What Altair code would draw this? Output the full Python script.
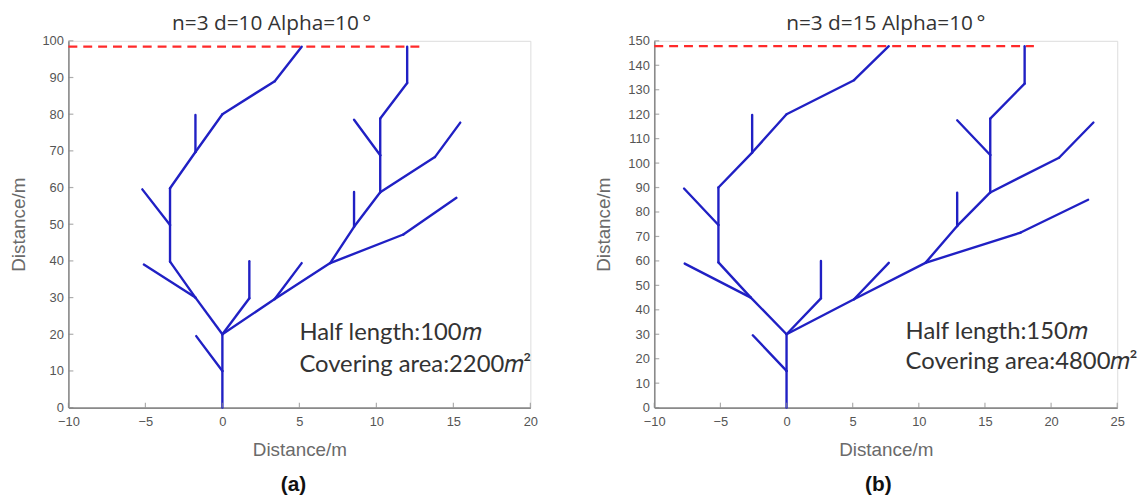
import altair as alt
import pandas as pd

BLUE = "#2020c4"
RED = "#ff2a2a"
AXIS_GREY = "#8a8a8a"
LABEL_GREY = "#555555"

# ---- panel (a): n=3, d=10, alpha=10 deg ----
a_x1 = [0, 0, 0, 0, -1.75, -1.75, -3.4, -3.4, -3.4, -3.4, -1.75, -1.75, 0, 3.4,
        0, 1.75, 0, 3.4, 3.4, 7.0, 11.75, 7.0, 8.55, 8.55, 10.25, 13.8, 10.25, 10.25, 10.25, 10.25, 12.0]
a_y1 = [0, 10, 10, 20, 30, 30, 39.8, 49.8, 49.8, 59.8, 69.7, 69.7, 80, 89,
        20, 29.8, 20, 29.6, 29.6, 39.4, 47.2, 39.4, 49.3, 49.3, 58.7, 68.3, 58.7, 68.8, 68.8, 78.8, 88.5]
a_x2 = [0, 0, -1.7, -1.75, -5.1, -3.4, -3.4, -5.2, -3.4, -1.75, -1.75, 0, 3.4, 5.15,
        1.75, 1.75, 3.4, 5.15, 7.0, 11.75, 15.2, 8.55, 8.55, 10.25, 13.8, 15.45, 10.25, 8.55, 10.25, 12.0, 12.0]
a_y2 = [10, 20, 19.5, 30, 39, 39.8, 49.8, 59.5, 59.8, 69.7, 79.8, 80, 89, 98.4,
        29.8, 39.9, 29.6, 39.4, 39.4, 47.2, 57.2, 49.3, 58.8, 58.7, 68.3, 77.7, 68.8, 78.5, 78.8, 88.5, 98.4]
a_target = [98.4]
a_target_x = [-10, 12.9]
a_xticks = [-10, -5, 0, 5, 10, 15, 20]
a_yticks = [0, 10, 20, 30, 40, 50, 60, 70, 80, 90, 100]

# ---- panel (b): n=3, d=15, alpha=10 deg ----
b_x1 = [0, 0, 0, 0, -2.7, -2.7, -5.15, -5.15, -5.15, -5.15, -2.6, -2.6, 0, 5.1,
        0, 2.6, 0, 5.1, 5.1, 10.5, 17.7, 10.5, 12.9, 12.9, 15.4, 20.6, 15.4, 15.4, 15.4, 15.4, 18.0]
b_y1 = [0, 15, 15, 30, 45, 45, 59.4, 74.7, 74.7, 90, 104.3, 104.3, 120, 133.9,
        30, 44.7, 30, 44.3, 44.3, 59.2, 71.6, 59.2, 74.3, 74.3, 88, 102.2, 88, 103.3, 103.3, 118.2, 132.5]
b_x2 = [0, 0, -2.55, -2.7, -7.7, -5.15, -5.15, -7.75, -5.15, -2.6, -2.6, 0, 5.1, 7.73,
        2.6, 2.6, 5.1, 7.73, 10.5, 17.7, 22.8, 12.9, 12.9, 15.4, 20.6, 23.2, 15.4, 12.9, 15.4, 18.0, 18.0]
b_y2 = [15, 30, 29.6, 45, 58.9, 59.4, 74.7, 89.6, 90, 104.3, 119.7, 120, 133.9, 147.8,
        44.7, 60, 44.3, 59.2, 59.2, 71.6, 85, 74.3, 87.9, 88, 102.2, 116.6, 103.3, 117.5, 118.2, 132.5, 147.8]
b_target = [147.8]
b_target_x = [-10, 18.7]
b_xticks = [-10, -5, 0, 5, 10, 15, 20, 25]
b_yticks = list(range(0, 151, 10))

notes_a = ["Half length:100\U0001D45A", "Covering area:2200\U0001D45A\u00b2"]
notes_b = ["Half length:150\U0001D45A", "Covering area:4800\U0001D45A\u00b2"]


def panel(x1, y1, x2, y2, target, target_x, xmax, ymax, xticks, yticks,
          title, title_dx, notes, note_x, note_y, tag, tag_x, w, h):
    xs = alt.Scale(domain=[-10, xmax], nice=False, zero=False)
    ys = alt.Scale(domain=[0, ymax], nice=False, zero=False)
    xaxis = alt.Axis(values=xticks, tickSize=0, grid=False, domainColor=AXIS_GREY,
                     domainWidth=1.6, labelColor=LABEL_GREY, labelFont="Liberation Sans",
                     labelFontSize=13, labelPadding=8, labelFlush=False, labelOverlap=False,
                     title="Distance/m", titleFont="Liberation Sans", titleFontSize=19,
                     titleFontWeight="normal", titleColor="#6a6a6a", titlePadding=12)
    yaxis = alt.Axis(values=yticks, tickSize=0, grid=False, domainColor=AXIS_GREY,
                     domainWidth=1.6, labelColor=LABEL_GREY, labelFont="Liberation Sans",
                     labelFontSize=13, labelPadding=5, labelFlush=False, labelOverlap=False,
                     title="Distance/m", titleFont="Liberation Sans", titleFontSize=19,
                     titleFontWeight="normal", titleColor="#6a6a6a", titlePadding=14)

    # every layer carries the same axis definition so the merged axes stay intact
    def X(field):
        return alt.X(field, scale=xs, axis=xaxis)

    def Y(field):
        return alt.Y(field, scale=ys, axis=yaxis)

    seg = pd.DataFrame({"x1": x1, "y1": y1, "x2": x2, "y2": y2})
    branches = alt.Chart(seg).mark_rule(color=BLUE, strokeWidth=2.4, strokeCap="round").encode(
        x=X("x1:Q"), y=Y("y1:Q"), x2="x2:Q", y2="y2:Q")

    tgt = pd.DataFrame({"xa": [target_x[0]], "xb": [target_x[1]], "y": target})
    target_line = alt.Chart(tgt).mark_rule(color=RED, strokeWidth=2.2, strokeDash=[9, 6]).encode(
        x=X("xa:Q"), x2="xb:Q", y=Y("y:Q"))

    xt = alt.Chart(pd.DataFrame({"t": xticks, "z": [0] * len(xticks)})).mark_tick(
        orient="vertical", size=5, yOffset=-2.5, thickness=1.2, color=AXIS_GREY).encode(
        x=X("t:Q"), y=Y("z:Q"))
    yt = alt.Chart(pd.DataFrame({"t": yticks, "z": [-10] * len(yticks)})).mark_tick(
        orient="horizontal", size=5, xOffset=2.5, thickness=1.2, color=AXIS_GREY).encode(
        y=Y("t:Q"), x=X("z:Q"))

    nd = pd.DataFrame({"text": notes, "x": [note_x, note_x], "y": note_y})
    note = alt.Chart(nd).mark_text(align="left", baseline="alphabetic", font="Lato",
                                   fontSize=24, color="#333333").encode(
        x=X("x:Q"), y=Y("y:Q"), text="text:N")

    lab = alt.Chart(pd.DataFrame({"t": [tag]})).mark_text(
        font="Liberation Sans", fontWeight="bold", fontSize=21, color="#111111",
        align="center", baseline="middle").encode(
        text="t:N", x=alt.value(tag_x), y=alt.value(h + 78))

    return alt.layer(target_line, branches, xt, yt, note, lab).properties(
        width=w, height=h,
        title=alt.TitleParams(title, font="Open Sans", fontSize=21, fontWeight="normal",
                              color="#333333", anchor="middle", frame="group",
                              dx=title_dx, offset=1))


left = panel(a_x1, a_y1, a_x2, a_y2, a_target, a_target_x, 20, 100, a_xticks, a_yticks,
             "n=3 d=10 Alpha=10\u2009\u00b0", -28, notes_a, 5, [18.5, 9.8], "(a)", 227, 466, 370)
right = panel(b_x1, b_y1, b_x2, b_y2, b_target, b_target_x, 25, 150, b_xticks, b_yticks,
              "n=3 d=15 Alpha=10\u2009\u00b0", 0, notes_b, 9, [28, 15.7], "(b)", 226, 467, 370)

chart = alt.hconcat(left, right, spacing=56).properties(
    padding={"left": 8, "top": 10, "right": 5, "bottom": 2}
).configure_view(stroke=None).configure(background="white")

chart.save("out.html", embed_options={"renderer": "svg", "actions": False})
